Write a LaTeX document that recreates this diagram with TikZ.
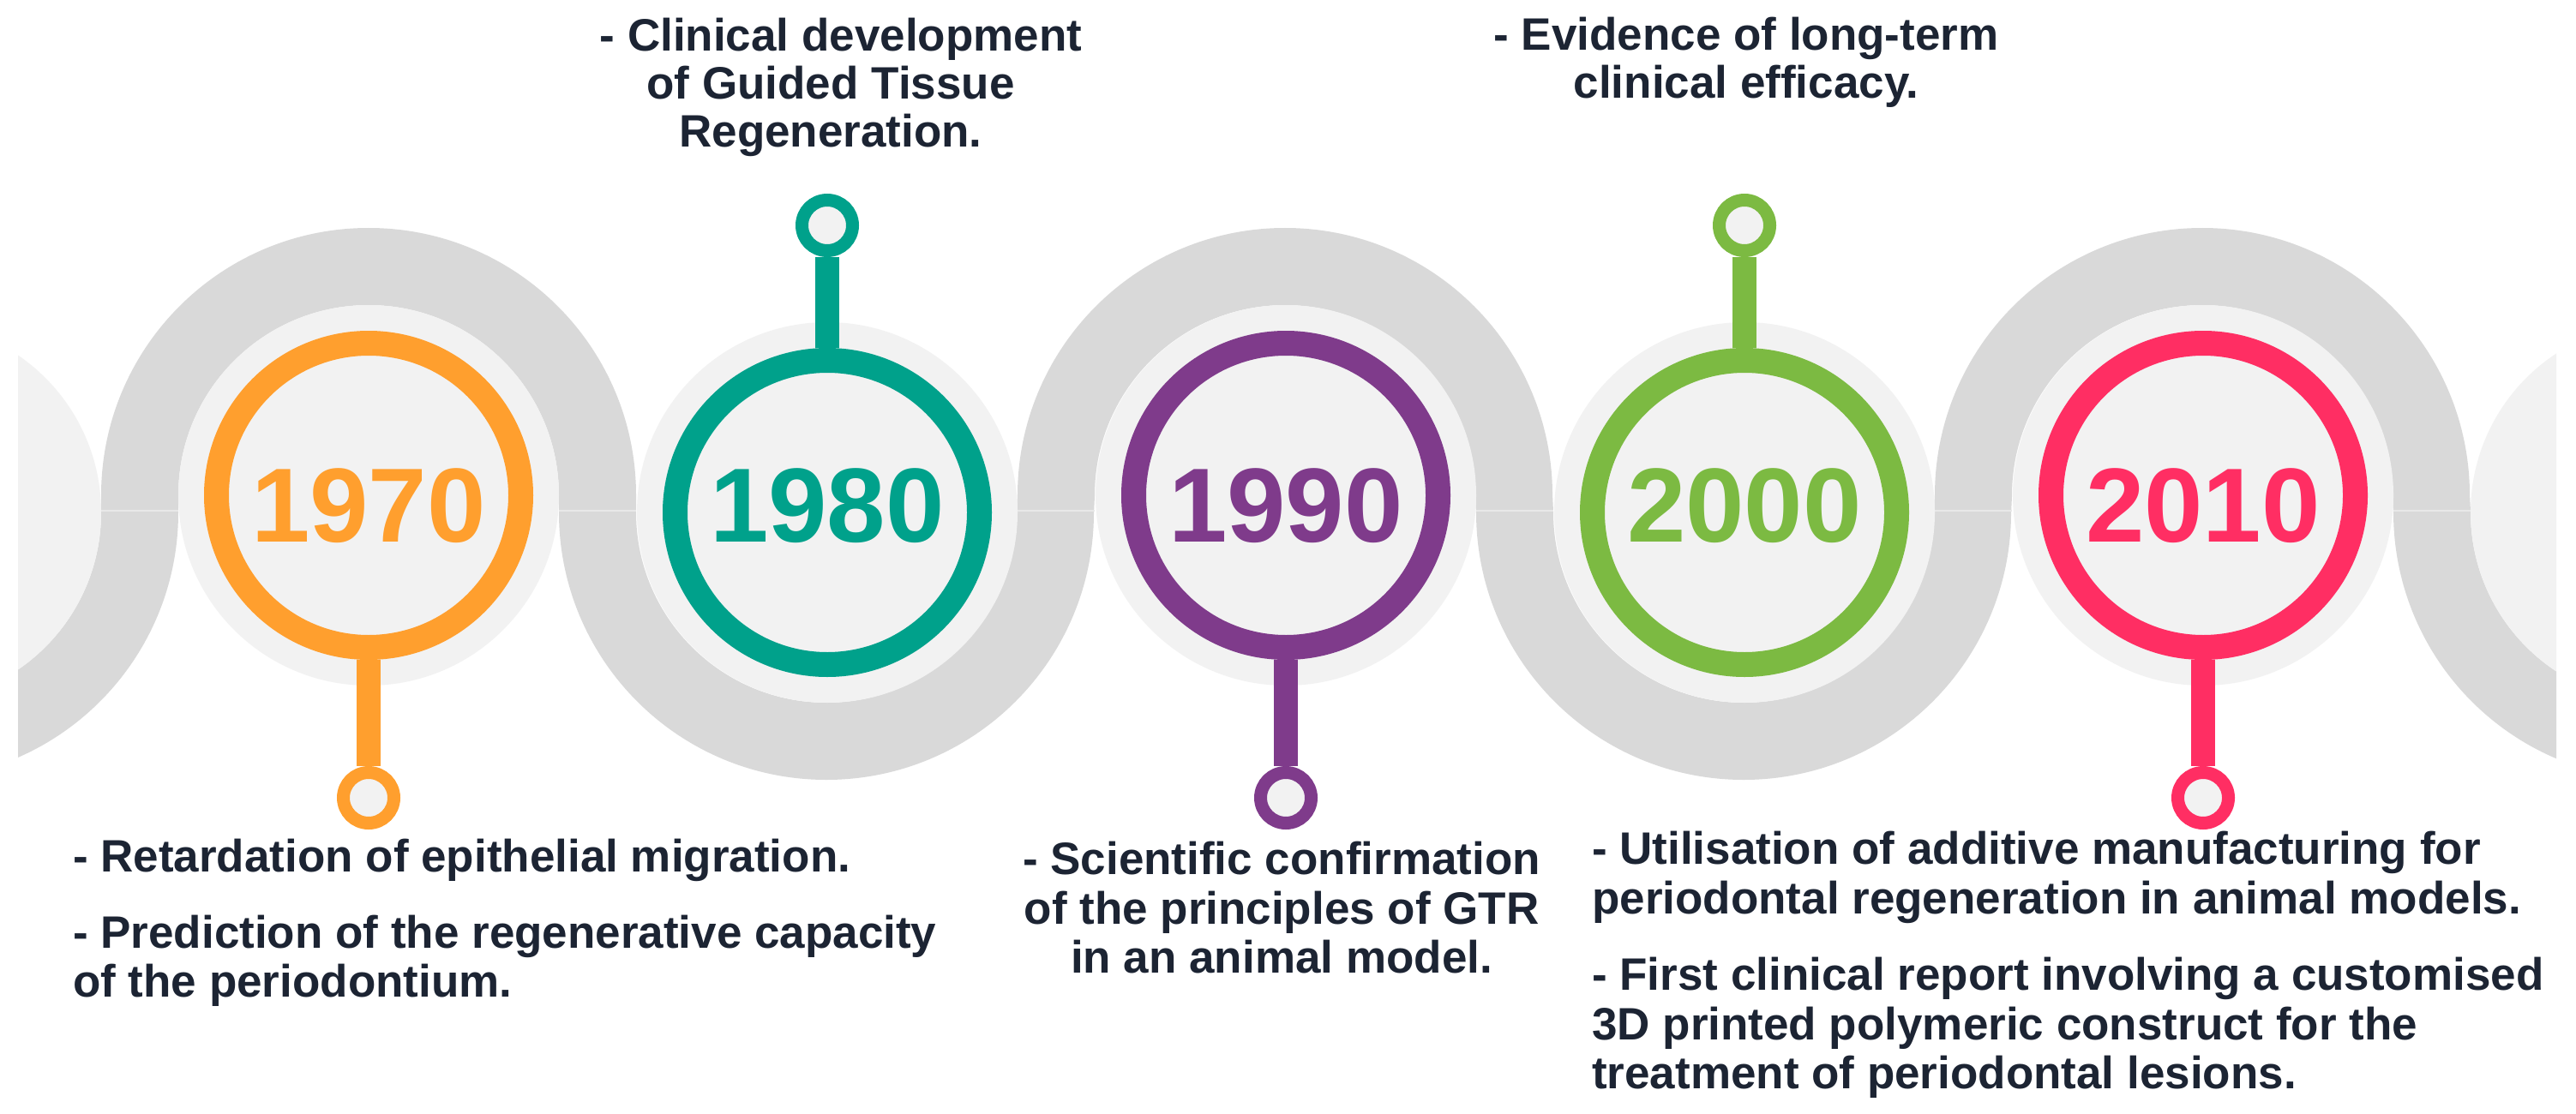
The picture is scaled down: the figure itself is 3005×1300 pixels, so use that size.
\documentclass[tikz,border=0pt]{standalone}
\usepackage{fontspec}
\setmainfont{Liberation Sans}
\definecolor{bandc}{RGB}{217,217,217}
\definecolor{lightc}{RGB}{242,242,242}
\definecolor{seamc}{RGB}{232,232,232}
\definecolor{txtc}{RGB}{28,36,51}
\definecolor{c1970}{RGB}{255,159,46}
\definecolor{c1980}{RGB}{0,161,139}
\definecolor{c1990}{RGB}{127,59,139}
\definecolor{c2000}{RGB}{124,186,66}
\definecolor{c2010}{RGB}{255,46,99}
\tikzset{
  yearring/.style={circle, draw=#1, line width=29pt, fill=lightc, minimum size=355pt, inner sep=0pt, outer sep=14.5pt},
  pindot/.style={circle, draw=#1, line width=15pt, fill=lightc, minimum size=59pt, inner sep=0pt, outer sep=7.5pt},
  stemline/.style={draw=#1, line width=28pt},
  yeartext/.style={text=#1, font=\fontsize{123}{123}\selectfont\bfseries, anchor=base, inner sep=0pt},
  desctext/.style={text=txtc, font=\fontsize{53}{56}\selectfont\bfseries, inner sep=0pt},
  band/.style={draw=bandc, line width=90pt},
  seam/.style={draw=seamc, line width=2pt},
  halo/.style={fill=lightc},
}
\begin{document}
\begin{tikzpicture}[x=1pt,y=1pt]
\useasboundingbox (0,0) rectangle (3005,-1300);
\fill[white] (0,0) rectangle (3005,-1300);
% wave band
\begin{scope}
\clip (21,0) rectangle (2982,-1300);
\draw[band] (-371,-598) arc[start angle=180, end angle=360, radius=267]
  -- (163,-578) arc[start angle=180, end angle=0, radius=267]
  -- (697,-598) arc[start angle=180, end angle=360, radius=267]
  -- (1232,-578) arc[start angle=180, end angle=0, radius=267]
  -- (1767,-598) arc[start angle=180, end angle=360, radius=267]
  -- (2302,-578) arc[start angle=180, end angle=0, radius=267]
  -- (2837,-598) arc[start angle=180, end angle=360, radius=267];
\fill[halo] (-104,-598) circle[radius=222];
\fill[halo] (3104,-598) circle[radius=222];
\end{scope}
% seams
\foreach \j in {163,697,1232,1767,2302,2837}{
  \draw[seam] (\j-45,-596) -- (\j+45,-596);
}
% halos
\fill[halo] (430,-578) circle[radius=222];
\fill[halo] (965,-598) circle[radius=222];
\fill[halo] (1500,-578) circle[radius=222];
\fill[halo] (2035,-598) circle[radius=222];
\fill[halo] (2570,-578) circle[radius=222];
% rings
\node[yearring=c1970] (r1970) at (430,-578) {};
\node[yearring=c1980] (r1980) at (965,-598) {};
\node[yearring=c1990] (r1990) at (1500,-578) {};
\node[yearring=c2000] (r2000) at (2035,-598) {};
\node[yearring=c2010] (r2010) at (2570,-578) {};
% pins
\node[pindot=c1970] (p1970) at (430,-931) {};
\node[pindot=c1980] (p1980) at (965,-263) {};
\node[pindot=c1990] (p1990) at (1500,-931) {};
\node[pindot=c2000] (p2000) at (2035,-263) {};
\node[pindot=c2010] (p2010) at (2570,-931) {};
% stems
\draw[stemline=c1970] (r1970.south) -- (p1970.north);
\draw[stemline=c1980] (r1980.north) -- (p1980.south);
\draw[stemline=c1990] (r1990.south) -- (p1990.north);
\draw[stemline=c2000] (r2000.north) -- (p2000.south);
\draw[stemline=c2010] (r2010.south) -- (p2010.north);
% years
\node[yeartext=c1970] (y1970) at (430,-632) {1970};
\node[yeartext=c1980] (y1980) at (965,-632) {1980};
\node[yeartext=c1990] (y1990) at (1500,-632) {1990};
\node[yeartext=c2000] (y2000) at (2035,-632) {2000};
\node[yeartext=c2010] (y2010) at (2570,-632) {2010};
% descriptions
\node[desctext, anchor=base west] (d1970a) at (85,-1017) {- Retardation of epithelial migration.};
\node[desctext, anchor=base west] (d1970b) at (85,-1106) {- Prediction of the regenerative capacity};
\node[desctext, anchor=base west] (d1970c) at (85,-1163) {of the periodontium.};
\node[desctext, anchor=base] (d1980a) at (981,-60) {- Clinical development};
\node[desctext, anchor=base] (d1980b) at (969,-116) {of Guided Tissue};
\node[desctext, anchor=base] (d1980c) at (969,-172) {Regeneration.};
\node[desctext, anchor=base] (d1990a) at (1495,-1020) {- Scientific confirmation};
\node[desctext, anchor=base] (d1990b) at (1495,-1078) {of the principles of GTR};
\node[desctext, anchor=base] (d1990c) at (1495,-1135) {in an animal model.};
\node[desctext, anchor=base] (d2000a) at (2037,-59) {- Evidence of long-term};
\node[desctext, anchor=base] (d2000b) at (2037,-115) {clinical efficacy.};
\node[desctext, anchor=base west] (d2010a) at (1857,-1008) {- Utilisation of additive manufacturing for};
\node[desctext, anchor=base west] (d2010b) at (1857,-1066) {periodontal regeneration in animal models.};
\node[desctext, anchor=base west] (d2010c) at (1857,-1155) {- First clinical report involving a customised};
\node[desctext, anchor=base west] (d2010d) at (1857,-1213) {3D printed polymeric construct for the};
\node[desctext, anchor=base west] (d2010e) at (1857,-1270) {treatment of periodontal lesions.};
\end{tikzpicture}
\end{document}
